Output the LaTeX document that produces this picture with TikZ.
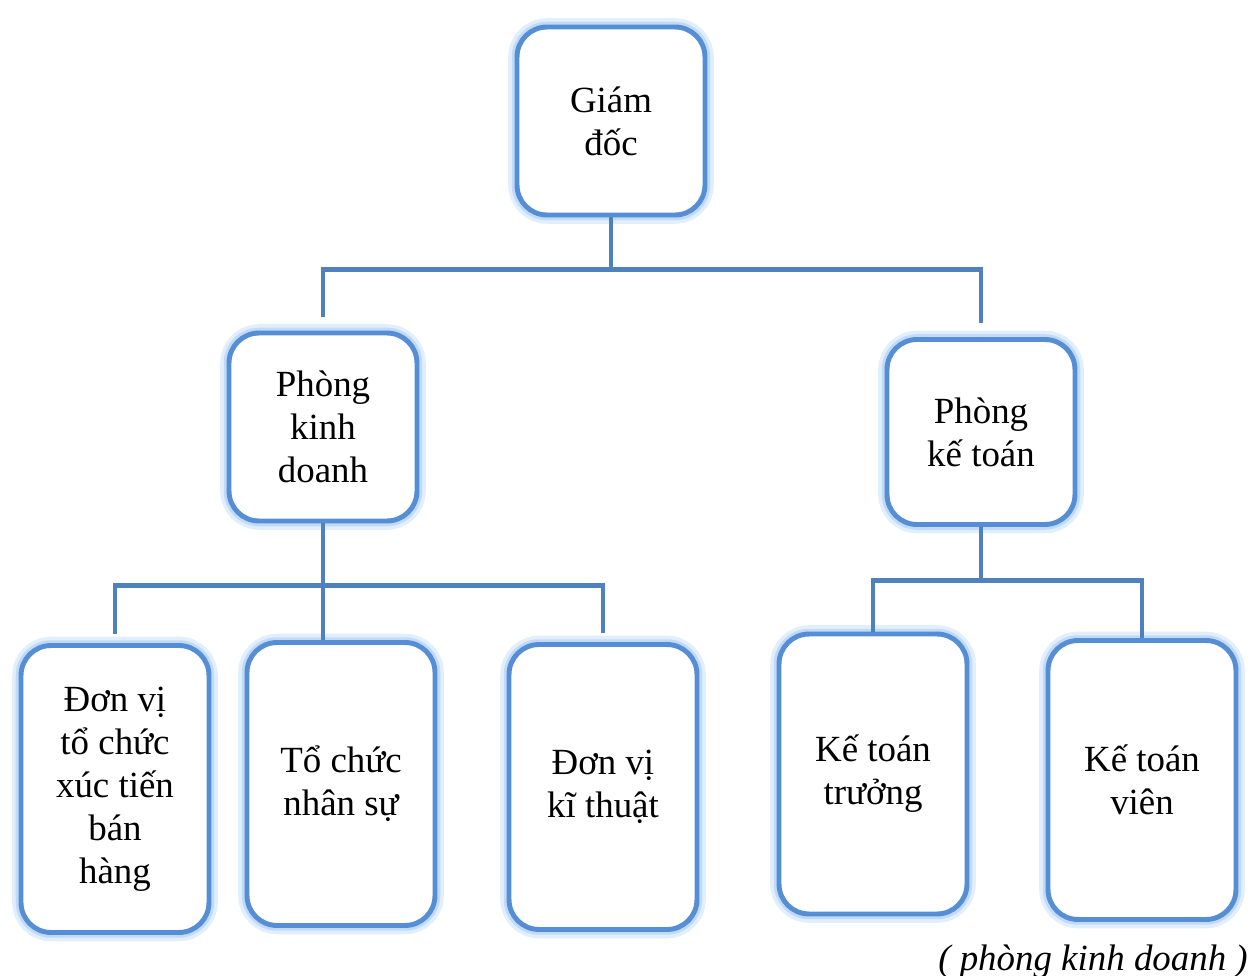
\documentclass[tikz,border=0pt]{standalone}
\usepackage{fontspec}
\setmainfont{Liberation Serif}
\usepackage{tikz}

\definecolor{boxblue}{RGB}{85,142,213}
\definecolor{lineblue}{RGB}{79,129,189}
\definecolor{glowblue}{RGB}{170,205,245}

\begin{document}
\begin{tikzpicture}
			[x=0.02cm,y=-0.02cm,every node/.style={font=\fontsize{21}{24.5}\selectfont,align=center},
			box/.style={draw=boxblue,line width=2.8pt,rounded corners=0.6cm,fill=white,minimum width=3.76cm,
				preaction={draw=glowblue,line width=10pt,opacity=.35},
				preaction={draw=glowblue,line width=6pt,opacity=.6}},
			link/.style={draw=lineblue,line width=2.8pt}]
			\useasboundingbox (0,0) rectangle (1251,976);
			\node[box,minimum height=3.76cm] (gd) at (611,121) {Giám\\đốc};
			\node[box,minimum height=3.76cm] (pkd) at (323,427) {Phòng\\kinh\\doanh};
			\node[box,minimum height=3.7cm] (pkt) at (981,432) {Phòng\\kế toán};
			\node[box,minimum height=5.74cm] (dvxt) at (115,789) {Đơn vị\\tổ chức\\xúc tiến\\bán\\hàng};
			\node[box,minimum height=5.66cm] (tcns) at (341,784) {Tổ chức\\nhân sự};
			\node[box,minimum height=5.7cm] (dvkt) at (603,787) {Đơn vị\\kĩ thuật};
			\node[box,minimum height=5.6cm] (ktt) at (873,774) {Kế toán\\trưởng};
			\node[box,minimum height=5.58cm] (ktv) at (1142,780) {Kế toán\\viên};
			\node[font=\fontsize{21}{24.5}\selectfont\itshape,anchor=base] (cap) at (1093,970) {( phòng kinh doanh )};
			
			\foreach \to in {pkd,pkt}
			\draw[link,shorten >=0.28cm] (gd.south) -- ++(0,52) -| (\to.north);
			\foreach \to in {dvxt,dvkt}
			\draw[link,shorten >=0.18cm] (pkd.south) -- ++(0,62) -| (\to.north);
			\draw[link] (pkd.south) -- (pkd.south |- tcns.north);
			\foreach \to in {ktt,ktv}
			\draw[link] (pkt.south) -- ++(0,54) -| (\to.north);

			\end{tikzpicture}
\end{document}
